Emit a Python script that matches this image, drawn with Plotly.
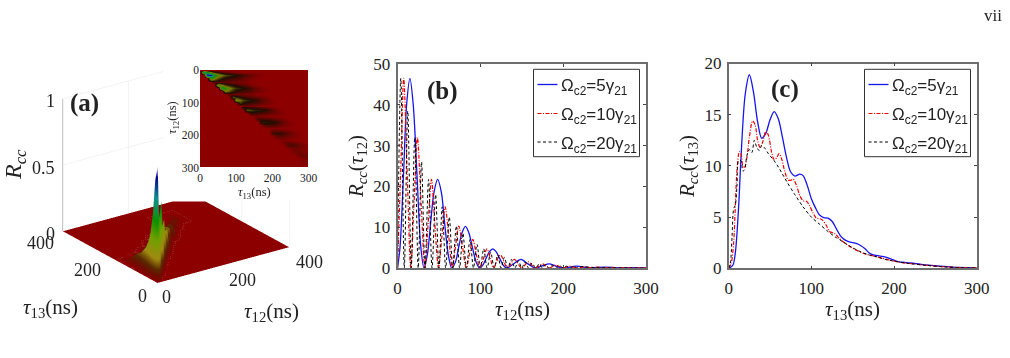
import plotly.graph_objects as go

W, H = 1010, 358
SERIF = "Liberation Serif"
SANS = "Liberation Sans"
INK = "#222222"

# Panel (b): correlation against tau12
b_blue_x = [0,3,7.5,11,15,19,23.5,28,32,36,40,44,48.5,53,57,61.5,65.5,70,74,78,82,86,90.5,95,99,103,107,111,115,119,123.5,128,132,140.5,149,157.5,166,174.5,183,191,199.5,216,233,250,266,283,300]
b_blue_y = [0,5,24,40,46.5,40,23,5.5,0,3.2,11,18.5,21.7,18.5,10.8,3,0,1.5,5.2,8.7,10.2,8.7,5,1.4,0,0.7,2.4,4,4.7,4,2.3,0.6,0,1.05,2.1,1,0,0.5,1,0.48,0.02,0.45,0.02,0.22,0.02,0.1,0]
b_red_x = [0,3.75,7.5,11.75,16,20,24,28.5,33,37,41,45,49.5,53.5,57.5,62,66,70,74,78.5,83,87,91,95,99.5,104,108,112,116,124,133,141,150,158,166,175,183,191,200,208,216,225,233,242,250,258,266,275,283,292,300]
b_red_y = [0,23,46.5,23,0,16,32,16,0,11,21.7,11,0,7.5,15,7.5,0,5.2,10.3,5.2,0,3.5,7,3.5,0,2.4,4.7,2.4,0,3.2,0,2.1,0,1.5,0,1,0,0.7,0.02,0.45,0.02,0.3,0.02,0.2,0.02,0.15,0.01,0.1,0.01,0.05,0]
b_black_x = [0,4,8.2,12.4,16.6,20.8,25,29,33.2,37.5,41.7,46,50,54,58.2,62.5,66.7,71,75,79,83.2,87.5,91.7,96,100,104,108.2,112.5,116.7,121,125,129,133.2,137.5,141.7,146,150,154,158.2,162.5,166.7,171,175,179,183,187,191.5,196,200,204,208.5,213,217,221,240,260,280,300]
b_black_y = [0,46.5,0,38.5,0,32,0,26,0,21.7,0,18,0,15,0,12.5,0,10.3,0,8.5,0,7,0,5.8,0,4.7,0,3.9,0,3.2,0,2.6,0,2.1,0,1.8,0,1.5,0,1.2,0,1,0,0.85,0,0.7,0,0.55,0,0.45,0,0.37,0,0.3,0.1,0.05,0.02,0]

# Panel (c): correlation against tau13
c_blue_x = [0,5,8,12,15,20,25,30,35,40,45,50,55,60,65,70,75,80,86,90,95,100,105,110,115,120,125,130,135,140,145,155,160,165,170,175,190,195,200,205,215,225,235,250,270,300]
c_blue_y = [0,0.3,1.5,6,11,17,18.9,17.2,14.3,12.7,13.2,14.5,15.3,14.6,12.8,10.8,9.4,9,9.2,9.05,8.1,6.8,5.9,5.2,4.95,4.9,4.6,3.9,3.2,2.8,2.6,2.4,2.2,1.9,1.5,1.3,1.1,0.95,0.8,0.65,0.55,0.48,0.35,0.25,0.12,0.05]
c_red_x = [0,3,6,8,10,13,15,17,19,22,25,29,32,35,38,41,45,48,52,55,58,61,64,68,72,75,78,82,86,90,94,98,102,106,112,118,122,128,134,140,146,155,165,175,185,195,210,225,240,260,280,300]
c_red_y = [0,0.5,2.5,6,9.5,11.4,11.2,10,9.8,10.8,12.8,14.4,14,12.5,11.8,12.3,13.4,13,11.3,10.6,10.8,11.2,10.7,9.4,8.6,8.6,8.7,8.1,7.1,6.6,6.55,6.1,5.4,4.9,4.8,4.2,3.6,3.4,2.9,2.5,2.15,1.75,1.4,1.2,1,0.8,0.55,0.42,0.3,0.15,0.08,0.04]
c_black_x = [0,2,4,6,8,10,12,15,17,19,22,25,28,31,34,37,40,43,48,55,60,65,70,80,90,100,110,120,130,140,150,160,170,180,190,200,220,240,260,280,300]
c_black_y = [0,0.5,3,5.8,6.2,8,10.5,10.5,9.5,9.6,11,11.6,11.3,12.5,11.8,11.5,12,11.8,11.2,10.5,9.9,9.2,8.5,7.2,6,5,4.3,3.6,3,2.5,2,1.6,1.3,1.1,0.85,0.7,0.45,0.28,0.14,0.07,0.03]

series_names = ["Ω<sub>c2</sub>=5γ<sub>21</sub>", "Ω<sub>c2</sub>=10γ<sub>21</sub>", "Ω<sub>c2</sub>=20γ<sub>21</sub>"]

# Panel (a): normalised map on a (tau12, tau13) grid, values in percent.
# Each row starts at first_tau13 and its remaining columns are zero.
tau13_cols = [0,10,20,30,40,50,60,70,80,90,100,110,120,130,140,150,160,170,180,190,200,210,220,230,240,250,260,270,280,290,300]
tau12_rows = [0,6,15,24,36,46,55,64,73,82,92,101,110,115,123,132,142,150,159,168,178,187,195,204,214,223,231,240,254,262,270,300]
first_tau13 = [0,10,20,30,40,50,60,70,80,90,100,110,120,120,130,140,150,160,170,180,190,200,200,210,220,230,240,250,260,270,280,300]
row_values = [
    [],
    [60,40,24,14,9,6,4,3,2,1],
    [85,74,48,32,24,19,16,13,12,10,8,6,4,3,2,1],
    [42,30,20,14,11,9,8,7,6,4,3,2,1],
    [6,5,4,4,4,3,3,2,2,1],
    [34,26,18,14,11,9,7,5,4,2,1],
    [52,38,28,20,16,14,12,10,7,5,3,2,1],
    [28,20,14,11,9,8,7,6,4,3,2,1],
    [5,4,3,3,3,2,2,1],
    [20,15,11,9,7,6,5,4,3,2,1],
    [32,24,18,15,13,11,9,6,4,2,1],
    [16,12,9,8,7,6,5,3,2,1],
    [3,3,2,2,1],
    [12,10,8,7,6,5,4,3,2,1],
    [20,17,15,14,13,11,8,5,3,1],
    [10,9,8,7,6,5,4,3,2,1],
    [2,2,1,1],
    [8,8,7,7,6,4,3,2,1],
    [14,14,13,12,10,7,4,2,1],
    [7,7,7,6,4,3,2,1],
    [1,1,1],
    [5,5,5,4,3,2,1],
    [8,10,10,8,6,4,2,1],
    [4,5,5,4,3,2,1],
    [1,1,1],
    [3,4,4,3,2,1],
    [5,7,7,5,3,2,1],
    [2,3,3,2,1],
    [2,3,3,2,1],
    [3,4,4,3],
    [1,2,2],
    [],
]
# Outer grid lines of the 3D floor, which is flat beyond the mapped range
floor_tau12 = [333, 400]
floor_tau13 = [353, 400]
# The floor is cut straight where it runs behind the inset panel
floor_cut_slope_tau12, floor_cut_slope_tau13, floor_cut_level = 0.09, 0.13, 82

z_ticks = [0, 0.5, 1]
tau_ticks = [0, 200, 400]
inset_ticks = [0, 100, 200, 300]

# Faint lines on the back walls of the 3D box
left_wall_x = [0,306,None,0,306,None,200,200]
left_wall_z = [1,1,None,0.5,0.5,None,0,1]
right_wall_y = [0,0,None,200,200]
right_wall_z = [0,0.353,None,0,0.16]

map_cells = []
for first, vals in zip(first_tau13, row_values):
    row = [0.0] * len(tau13_cols)
    start = tau13_cols.index(first)
    for i, v in enumerate(vals):
        row[start + i] = v / 100
    map_cells.append(row)

heat_colors = [
    [0, "#8c0000"], [0.14, "#1c0d00"], [0.30, "#7d7a00"], [0.5, "#0f8f00"],
    [0.72, "#0f8f90"], [0.9, "#00008c"], [1, "#4020a0"],
]
surface_colors = [
    [0, "#8c0000"], [0.06, "#6a1000"], [0.11, "#5a2a00"], [0.2, "#a08a10"], [0.36, "#70a000"],
    [0.52, "#0f8f00"], [0.72, "#0f8f90"], [0.9, "#00008c"], [1, "#d8c8f0"],
]

def px_x(a, b):
    return [a / W, b / W]

def px_y(top, bottom):
    return [1 - bottom / H, 1 - top / H]

fig = go.Figure()

styles = [dict(color="#1414f0", width=1.3),
          dict(color="#f00000", width=1.2, dash="4px,1.5px,1px,1.5px"),
          dict(color="#000000", width=1, dash="3px,2.5px")]

b_sets = [(b_blue_x, b_blue_y), (b_red_x, b_red_y), (b_black_x, b_black_y)]
c_sets = [(c_blue_x, c_blue_y), (c_red_x, c_red_y), (c_black_x, c_black_y)]

for (xs, ys), name, st in zip(b_sets, series_names, styles):
    fig.add_trace(go.Scatter(x=xs, y=ys, mode="lines", name=name, line=dict(shape="spline", smoothing=0.9, **st),
                             xaxis="x", yaxis="y", showlegend=False))
for (xs, ys), name, st in zip(c_sets, series_names, styles):
    fig.add_trace(go.Scatter(x=xs, y=ys, mode="lines", name=name, line=dict(shape="spline", smoothing=0.9, **st),
                             xaxis="x2", yaxis="y2", showlegend=False))

# Inset map
fig.add_trace(go.Heatmap(x=tau13_cols, y=tau12_rows, z=map_cells, zmin=0, zmax=0.85, zsmooth="best",
                         colorscale=heat_colors, showscale=False, xaxis="x3", yaxis="y3"))

# Floor surface with its narrow peak near the origin
grid_tau12 = tau12_rows + floor_tau12
grid_tau13 = tau13_cols + floor_tau13
surf_x, surf_y, surf_z = [], [], []
for j, t13 in enumerate(grid_tau13):
    xs, ys, zs = [], [], []
    for i, t12 in enumerate(grid_tau12):
        depth = floor_cut_slope_tau12 * t12 + floor_cut_slope_tau13 * t13
        k = min(1.0, floor_cut_level / depth) if depth else 1.0
        xs.append(t12 * k)
        ys.append(t13 * k)
        zs.append(map_cells[i][j] if i < len(map_cells) and j < len(tau13_cols) else 0.0)
    surf_x.append(xs)
    surf_y.append(ys)
    surf_z.append(zs)
fig.add_trace(go.Surface(x=surf_x, y=surf_y, z=surf_z, cmin=0, cmax=0.85, colorscale=surface_colors, showscale=False,
                         lighting=dict(ambient=1, diffuse=0, specular=0, roughness=1, fresnel=0),
                         hoverinfo="skip", scene="scene"))

# Box furniture of the 3D panel
wall = dict(color="#e8e8e8", width=1)
fig.add_trace(go.Scatter3d(x=left_wall_x, y=[tau_ticks[-1]] * len(left_wall_x), z=left_wall_z, mode="lines",
                           line=wall, hoverinfo="skip", showlegend=False, scene="scene"))
fig.add_trace(go.Scatter3d(x=[tau_ticks[-1]] * len(right_wall_y), y=right_wall_y, z=right_wall_z, mode="lines",
                           line=wall, hoverinfo="skip", showlegend=False, scene="scene"))
fig.add_trace(go.Scatter3d(x=[0, 0], y=[tau_ticks[-1]] * 2, z=[z_ticks[0], z_ticks[-1]], mode="lines",
                           line=dict(color="#a8a8a8", width=1.5), hoverinfo="skip", showlegend=False, scene="scene"))

axis_line = dict(automargin=False, showline=True, linecolor="#6e6e6e", linewidth=1.5, mirror="ticks", ticks="inside",
                 ticklen=3, tickcolor="#444444", tickwidth=1, showgrid=False, zeroline=False,
                 tickfont=dict(family=SERIF, size=17, color=INK))
scene_axis = dict(visible=False, showspikes=False)

def paper_text(text, x, y, size, family=SERIF, angle=0, xanchor="center"):
    return dict(text=text, x=x / W, y=1 - y / H, xref="paper", yref="paper", showarrow=False, textangle=angle,
                xanchor=xanchor, yanchor="middle", font=dict(family=family, size=size, color=INK))

notes = [
    paper_text("vii", 993, 15, 17),
    paper_text("<b>(a)</b>", 84, 103, 25),
    paper_text("<b>(b)</b>", 442, 91, 25),
    paper_text("<b>(c)</b>", 785, 89, 25),
    paper_text("<i>R</i><sub><i>cc</i></sub>", 15, 165, 24, angle=-90),
    paper_text("<i>τ</i><sub>13</sub>(ns)", 50, 308, 21),
    paper_text("<i>τ</i><sub>12</sub>(ns)", 271, 312, 21),
    paper_text("<i>τ</i><sub>13</sub>(ns)", 254, 193, 12.5),
    paper_text("<i>τ</i><sub>12</sub>(ns)", 173, 118, 12.5, angle=-90),
    paper_text("<i>τ</i><sub>12</sub>(ns)", 522, 310, 21),
    paper_text("<i>R</i><sub><i>cc</i></sub>(<i>τ</i><sub>12</sub>)", 357, 167, 21, angle=-90),
    paper_text("<i>τ</i><sub>13</sub>(ns)", 852, 310, 21),
    paper_text("<i>R</i><sub><i>cc</i></sub>(<i>τ</i><sub>13</sub>)", 688, 167, 21, angle=-90),
]

# Hand-placed legend boxes, one per line plot
legend_left = [533.5, 864.5]
legend_top, legend_bottom = 69.3, 156.7
legend_width = 106
row_y = [84.5, 113.5, 142]
shapes = []
for left in legend_left:
    shapes.append(dict(type="rect", xref="paper", yref="paper", x0=left / W, x1=(left + legend_width) / W,
                       y0=1 - legend_bottom / H, y1=1 - legend_top / H, fillcolor="white",
                       line=dict(color="#333333", width=1), layer="above"))
    for name, st, y in zip(series_names, styles, row_y):
        shapes.append(dict(type="line", xref="paper", yref="paper", x0=(left + 4) / W, x1=(left + 24) / W,
                           y0=1 - y / H, y1=1 - y / H, line=st, layer="above"))
        notes.append(paper_text(name, left + 25, y + 2.5, 17, family=SANS, xanchor="left"))

z_label_shift = [(-12, -3), (-19, -3), (-12, -3)]
tau13_label_shift = [(-14, -13), (-22, -13), (-22, -12)]
tau12_label_shift = [(10, -14), (20, -15), (21, -15)]
tick_font = dict(family=SERIF, size=18, color=INK)
scene_notes = []
def scene_text(x, y, z, value, dx, dy):
    return dict(x=x, y=y, z=z, text=str(value), showarrow=False, xshift=dx, yshift=dy, xanchor="center",
                yanchor="middle", font=tick_font)
for v, (dx, dy) in zip(z_ticks, z_label_shift):
    scene_notes.append(scene_text(0, tau_ticks[-1], v, v, dx, dy))
for v, (dx, dy) in zip(tau_ticks, tau13_label_shift):
    scene_notes.append(scene_text(0, v, 0, v, dx, dy))
for v, (dx, dy) in zip(tau_ticks, tau12_label_shift):
    scene_notes.append(scene_text(v, 0, 0, v, dx, dy))

inset_tick_font = dict(family=SERIF, size=11.5, color=INK)

fig.update_layout(
    width=W, height=H, autosize=False, margin=dict(l=0, r=0, t=0, b=0),
    paper_bgcolor="white", plot_bgcolor="white", showlegend=False,
    xaxis=dict(domain=px_x(397.5, 646), range=[0, 300], tickvals=inset_ticks, anchor="y", ticklabelstandoff=4, **axis_line),
    yaxis=dict(domain=px_y(64, 268), range=[0, 50], tickvals=[0, 10, 20, 30, 40, 50], anchor="x", ticklabelstandoff=2, **axis_line),
    xaxis2=dict(domain=px_x(728.7, 976.7), range=[0, 300], tickvals=inset_ticks, anchor="y2", ticklabelstandoff=4, **axis_line),
    yaxis2=dict(domain=px_y(63.5, 268.3), range=[0, 20], tickvals=[0, 5, 10, 15, 20], anchor="x2", ticklabelstandoff=2, **axis_line),
    xaxis3=dict(domain=px_x(200, 308.5), range=[0, 300], tickvals=inset_ticks, anchor="y3", showgrid=False, ticklabelstandoff=2,
                automargin=False, zeroline=False, ticks="", tickfont=inset_tick_font),
    yaxis3=dict(domain=px_y(70, 167.5), range=[300, 0], tickvals=inset_ticks, anchor="x3", showgrid=False,
                automargin=False, zeroline=False, ticks="", tickfont=inset_tick_font),
    scene=dict(
        domain=dict(x=px_x(5.5, 345.5), y=px_y(22.5, 322.5)),
        bgcolor="rgba(0,0,0,0)",
        aspectmode="manual", aspectratio=dict(x=1.075, y=1.096, z=0.957),
        camera=dict(eye=dict(x=-0.98, y=-1.39, z=0.71), center=dict(x=0, y=0, z=0),
                    up=dict(x=0, y=0, z=1), projection=dict(type="orthographic")),
        xaxis=dict(range=[0, 400], **scene_axis),
        yaxis=dict(range=[0, 400], **scene_axis),
        zaxis=dict(range=[0, 1], **scene_axis),
        annotations=scene_notes,
    ),
    annotations=notes,
    shapes=shapes,
)

fig.write_html("out.html")
